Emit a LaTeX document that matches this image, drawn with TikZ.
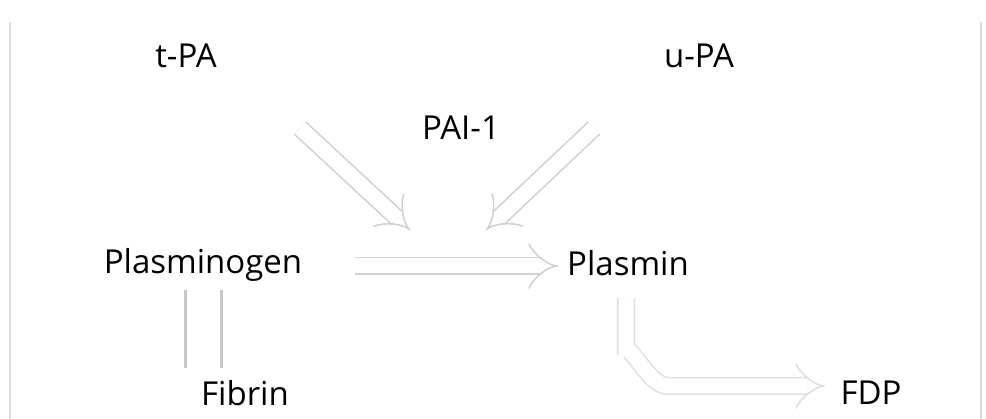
\documentclass[tikz,border=0pt]{standalone}
\usepackage{fontspec}
\setmainfont{Open Sans}
\usetikzlibrary{arrows.meta}
\begin{document}
\begin{tikzpicture}[x=1pt,y=-1pt,
  lbl/.style={font=\fontsize{33}{38}\selectfont, text=black, inner sep=0pt, anchor=center},
  hollow/.style={draw=black!18, line width=1.6pt, double=white, double distance=15pt, -{Implies[length=10pt]}},
  hollowplain/.style={draw=black!22, line width=3pt, double=white, double distance=33pt},
  frame/.style={draw=black!14, line width=1.4pt}]
\useasboundingbox (0,0) rectangle (986,419);
\fill[white] (0,0) rectangle (986,419);
% frame edges
\coordinate (fl1) at (10,22); \coordinate (fl2) at (10,419);
\coordinate (fr1) at (981,22); \coordinate (fr2) at (981,419);
\draw[frame] (fl1) -- (fl2);
\draw[frame] (fr1) -- (fr2);
% labels
\node[lbl] (tpa) at (186,56) {t-PA};
\node[lbl] (upa) at (699,56) {u-PA};
\node[lbl] (pai) at (461,128) {PAI-1};
\node[lbl] (plg) at (203,265) {Plasminogen};
\node[lbl] (pls) at (628,263) {Plasmin};
\node[lbl] (fib) at (245,393) {Fibrin};
\node[lbl] (fdp) at (871,393) {FDP};
% arrow anchor points
\coordinate (ta1) at (300,128); \coordinate (ta2) at (410,230);
\coordinate (ua1) at (594,128); \coordinate (ua2) at (486,230);
\coordinate (ma1) at (355,266); \coordinate (ma2) at (558,266);
\coordinate (fa1) at (203,290); \coordinate (fa2) at (203,368);
\coordinate (pa1) at (626,298); \coordinate (pa2) at (626,355);
\coordinate (pa3) at (668,386); \coordinate (pa4) at (825,386);
% arrows
\draw[hollow] (ta1) -- (ta2);
\draw[hollow] (ua1) -- (ua2);
\draw[hollow] (ma1) -- (ma2);
\draw[hollowplain] (fa1) -- (fa2);
\draw[hollow, draw=black!12] (pa1) -- (pa2) to[out=90,in=180] (pa3) -- (pa4);
\end{tikzpicture}
\end{document}
